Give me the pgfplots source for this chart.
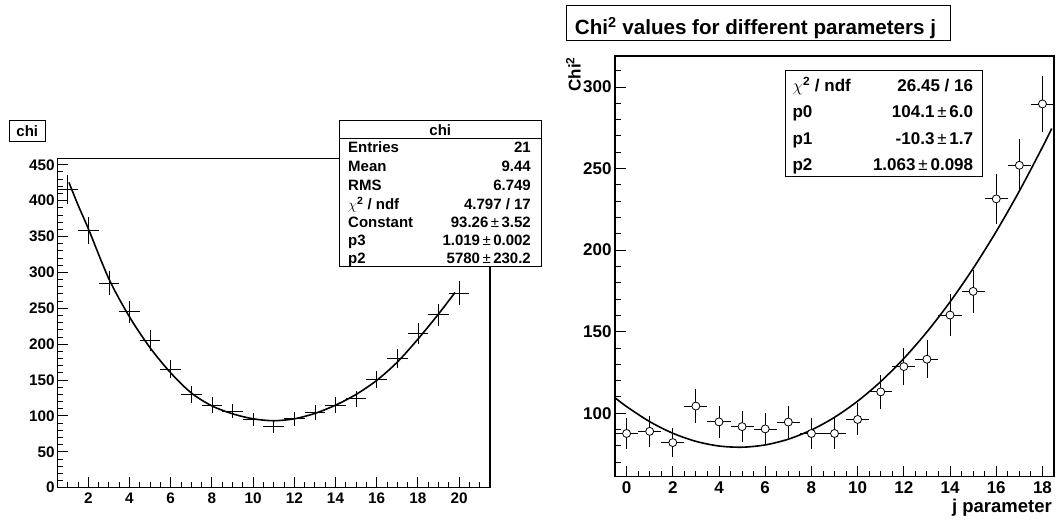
\documentclass[border=0pt]{standalone}
\usepackage{fontspec}
\setmainfont{Liberation Sans}
\usepackage{pgfplots}
\pgfplotsset{compat=1.18}

% histogram of chi values (bins of width 1, Poisson errors)
\pgfplotstableread{
x   y     ex   ey
1   416   0.5  20.4
2   358   0.5  18.9
3   285   0.5  16.9
4   245   0.5  15.7
5   205   0.5  14.3
6   165   0.5  12.8
7   130   0.5  11.4
8   115   0.5  10.7
9   107   0.5  10.3
10  95    0.5  9.7
11  85    0.5  9.2
12  96    0.5  9.8
13  105   0.5  10.2
14  115   0.5  10.7
15  124   0.5  11.1
16  151   0.5  12.3
17  180   0.5  13.4
18  215   0.5  14.7
19  241   0.5  15.5
20  271   0.5  16.5
}\chihist

% chi^2 as a function of the parameter j
\pgfplotstableread{
x   y      ex   ey
0   87.6   0.5  9.4
1   88.9   0.5  9.4
2   82.0   0.5  9.1
3   104.4  0.5  10.2
4   94.7   0.5  9.7
5   91.8   0.5  9.6
6   90.4   0.5  9.5
7   94.6   0.5  9.7
8   87.6   0.5  9.4
9   87.6   0.5  9.4
10  96.2   0.5  9.8
11  113.1  0.5  10.6
12  128.6  0.5  11.3
13  133.1  0.5  11.5
14  160.2  0.5  12.7
15  174.7  0.5  13.2
16  231.4  0.5  15.2
17  252.0  0.5  15.9
18  289.6  0.5  17.0
}\chitwo

\pgfplotsset{
  rootframe/.style={
    scale only axis,
    anchor=south west,
    tick align=inside,
    tick pos=left,
    axis line style={black, line width=1.2pt},
    every tick/.style={black, line width=0.9pt},
    major tick length=11pt,
    minor tick length=6pt,
    /pgf/number format/assume math mode=true,
    xticklabel style={inner sep=0pt, anchor=north, yshift=-5pt},
    yticklabel style={inner sep=0pt, anchor=east, xshift=-2.6pt},
  },
  crosses/.style={
    draw=none, mark=none, forget plot,
    error bars/.cd, x dir=both, x explicit, y dir=both, y explicit,
    error mark=none,
    error bar style={draw=black, solid, line width=0.8pt},
  },
}

\begin{document}
\begin{tikzpicture}
\useasboundingbox (0pt,0pt) rectangle (1056pt,521pt);

% ---------------- left pad: histogram with fit ----------------
\begin{axis}[rootframe,
  at={(57.4pt,33.3pt)}, width=432.6pt, height=329.4pt,
  xmin=0.5, xmax=21.5, ymin=0, ymax=459,
  xtick={2,4,...,20}, ytick={0,50,...,450},
  minor xtick={1,1.5,...,21}, minor ytick={10,20,...,450},
  ticklabel style={font=\fontsize{15.3}{16}\selectfont\bfseries},
]
\addplot[crosses] table[x=x, y=y, x error=ex, y error=ey] {\chihist};
\addplot[black, line width=1.6pt, smooth, no marks] coordinates {
  (1.06,425.4) (1.5,394) (2,361) (3,291) (4,238) (5,195) (6,160)
  (7,132) (8,114) (9,103) (10,96) (11,93.3) (12,96) (13,103.5)
  (14,115) (15,130) (16,149.5) (17,175) (18,207) (19,242) (19.8,272)
};
\end{axis}

% title box
\draw[black, line width=0.8pt, fill=white] (9pt,401pt) rectangle (45.7pt,380pt);
\node[anchor=base, inner sep=0pt, font=\fontsize{15}{16}\selectfont\bfseries] at (27.3pt,384.3pt) {chi};

% statistics box
\draw[black, line width=0.9pt, fill=white] (339pt,401pt) rectangle (541.7pt,255pt);
\draw[black, line width=0.8pt] (339pt,382.7pt) -- (541.7pt,382.7pt);
\begin{scope}[every node/.style={inner sep=0pt, font=\fontsize{15}{16}\selectfont\bfseries}]
\node[anchor=base] at (440.3pt,385.3pt) {chi};
\node[anchor=base west] at (348pt,368.3pt) {Entries};
\node[anchor=base east] at (531pt,368.3pt) {21};
\node[anchor=base west] at (348pt,349pt) {Mean};
\node[anchor=base east] at (531pt,349pt) {9.44};
\node[anchor=base west] at (348pt,330pt) {RMS};
\node[anchor=base east] at (531pt,330pt) {6.749};
\node[anchor=base west] at (348pt,311.7pt) {$\chi$\textsuperscript{2} / ndf};
\node[anchor=base east] at (531pt,311.7pt) {4.797 / 17};
\node[anchor=base west] at (348pt,293pt) {Constant};
\node[anchor=base east] at (531pt,293pt) {93.26\,{\mdseries ±}\,3.52};
\node[anchor=base west] at (348pt,275.3pt) {p3};
\node[anchor=base east] at (531pt,275.3pt) {1.019\,{\mdseries ±}\,0.002};
\node[anchor=base west] at (348pt,257pt) {p2};
\node[anchor=base east] at (531pt,257pt) {5780\,{\mdseries ±}\,230.2};
\end{scope}

% ---------------- right pad: chi^2 versus j ----------------
\begin{axis}[rootframe,
  at={(615pt,44.3pt)}, width=439pt, height=420.7pt,
  xmin=-0.5, xmax=18.5, ymin=61.1, ymax=319,
  xtick={0,2,...,18}, ytick={100,150,...,300},
  minor xtick={0,0.5,...,18}, minor ytick={70,80,...,310},
  ticklabel style={font=\fontsize{17}{18}\selectfont\bfseries},
  yticklabel style={xshift=-0.7pt},
]
\addplot[crosses] table[x=x, y=y, x error=ex, y error=ey] {\chitwo};
\addplot[only marks, mark=*, mark size=4pt,
  mark options={fill=white, draw=black, line width=0.8pt}]
  table[x=x, y=y] {\chitwo};
% fit: p0 + p1 j + p2 j^2
\addplot[black, line width=1.6pt, smooth, no marks] coordinates {
  (-0.5,109.5) (0,104.1) (1,94.86) (2,87.75) (3,82.77) (4,79.91)
  (5,79.18) (6,80.57) (7,84.09) (8,89.73) (9,97.50) (10,107.40)
  (11,119.42) (12,133.57) (13,149.85) (14,168.25) (15,188.78)
  (16,211.43) (17,236.21) (18,263.11) (18.4,274.5)
};
\end{axis}

% axis titles
\node[rotate=90, anchor=base east, inner sep=0pt, font=\fontsize{17}{18}\selectfont\bfseries]
  at (580.7pt,464.3pt) {Chi\textsuperscript{2}};
\node[anchor=base east, inner sep=0pt, font=\fontsize{18.5}{19}\selectfont\bfseries]
  at (1052pt,8pt) {j parameter};

% pad title
\draw[black, line width=0.8pt, fill=white] (566.7pt,516pt) rectangle (950pt,481pt);
\node[anchor=base, inner sep=0pt, font=\fontsize{20.6}{21}\selectfont\bfseries]
  at (755.5pt,486.3pt) {Chi\textsuperscript{2} values for different parameters j};

% fit results
\draw[black, line width=0.9pt, fill=white] (785.7pt,450.3pt) rectangle (982.7pt,344.3pt);
\begin{scope}[every node/.style={inner sep=0pt, font=\fontsize{17}{18}\selectfont\bfseries}]
\node[anchor=base west] at (792.3pt,429.5pt) {$\chi$\textsuperscript{2} / ndf};
\node[anchor=base east] at (973.3pt,429.5pt) {26.45 / 16};
\node[anchor=base west] at (792.3pt,403pt) {p0};
\node[anchor=base east] at (973.3pt,403pt) {104.1\,{\mdseries ±}\,6.0};
\node[anchor=base west] at (792.3pt,376.5pt) {p1};
\node[anchor=base east] at (973.3pt,376.5pt) {-10.3\,{\mdseries ±}\,1.7};
\node[anchor=base west] at (792.3pt,350pt) {p2};
\node[anchor=base east] at (973.3pt,350pt) {1.063\,{\mdseries ±}\,0.098};
\end{scope}
\end{tikzpicture}
\end{document}
